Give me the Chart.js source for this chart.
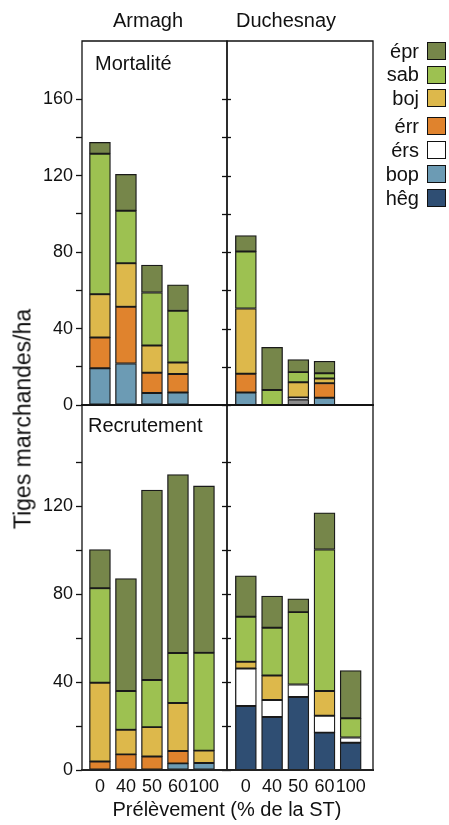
<!DOCTYPE html>
<html>
<head>
<meta charset="utf-8">
<script src="https://cdn.jsdelivr.net/npm/chart.js@4.4.1/dist/chart.umd.min.js"></script>
<style>
body{margin:0;width:449px;height:825px;position:relative;background:#fff;overflow:hidden;font-family:"Liberation Sans",Arial,sans-serif;color:#111}
canvas{position:absolute;left:0;top:0}
.t{position:absolute;white-space:nowrap;line-height:1;font-size:20px}
.leg{position:absolute;left:340px;width:106px;height:18px;display:flex;align-items:center;justify-content:flex-end;font-size:20px}
.leg span.b{display:inline-block;width:17px;height:16px;border:1.3px solid #111;margin-left:8px}
</style>
</head>
<body>
<canvas id="c1" width="449" height="825"></canvas>
<canvas id="c2" width="449" height="825"></canvas>
<canvas id="c3" width="449" height="825"></canvas>
<canvas id="c4" width="449" height="825"></canvas>

<div class="t" style="left:148px;top:10px;transform:translateX(-50%)">Armagh</div>
<div class="t" style="left:286px;top:10px;transform:translateX(-50%)">Duchesnay</div>
<div class="t" style="left:95px;top:53px">Mortalité</div>
<div class="t" style="left:88px;top:415px">Recrutement</div>
<div class="t" style="left:23px;top:419px;font-size:23px;transform:translate(-50%,-50%) rotate(-90deg)">Tiges marchandes/ha</div>
<div class="t" style="left:227px;top:799px;transform:translateX(-50%)">Prélèvement (% de la ST)</div>
<div id="legend"></div>

<script>
// catégories (prélèvement, % de la surface terrière)
const CATS = ['0', '40', '50', '60', '100'];

// espèces, du haut de la légende vers le bas
const SPECIES = ['épr', 'sab', 'boj', 'érr', 'érs', 'bop', 'hêg'];
const COLORS = ['#76864a', '#9dc151', '#ddb84b', '#e0832d', '#ffffff', '#6c9bb4', '#2f4e73'];
const OTHER_COLOR = '#8c8c8c';

// MORTALITÉ - Armagh
const armMortBop = [19.2, 21.7, 6.3, 6.5, 0];
const armMortErr = [16.1, 29.7, 10.6, 9.7, 0];
const armMortBoj = [22.7, 22.8, 14.2, 6.0, 0];
const armMortSab = [73.5, 27.5, 27.8, 27.1, 0];
const armMortEpr = [6.0, 19.0, 14.3, 13.6, 0];

// MORTALITÉ - Duchesnay
const duMortBop = [6.5, 0, 0, 3.8, 0];
const duMortAutre = [0, 0, 2.9, 0, 0];
const duMortErs = [0, 0, 1.0, 0, 0];
const duMortErr = [9.9, 0, 0, 7.6, 0];
const duMortBoj = [34.1, 0, 8.0, 2.5, 0];
const duMortSab = [29.8, 7.9, 5.3, 2.7, 0];
const duMortEpr = [8.4, 22.3, 6.6, 6.3, 0];

// RECRUTEMENT - Armagh
const armRecBop = [0, 0, 0, 3.0, 3.2];
const armRecErr = [3.9, 7.1, 6.1, 5.6, 0];
const armRecBoj = [35.8, 11.2, 13.4, 21.9, 5.6];
const armRecSab = [43.0, 17.6, 21.4, 22.7, 44.5];
const armRecEpr = [17.6, 51.2, 86.4, 81.2, 75.9];

// RECRUTEMENT - Duchesnay
const duRecHeg = [29.1, 24.1, 33.2, 17.0, 12.4];
const duRecErs = [17.1, 7.7, 5.7, 7.7, 2.4];
const duRecBoj = [3.0, 11.2, 0, 11.2, 0];
const duRecSab = [20.5, 21.7, 32.9, 64.4, 8.7];
const duRecEpr = [18.6, 14.4, 6.1, 16.7, 21.7];

// ticks de l'axe Y
const TOP_TICKS = [0, 20, 40, 60, 80, 100, 120, 140, 160];
const BOTTOM_TICKS = [0, 20, 40, 60, 80, 100, 120, 140];

const colorOf = sp => sp === 'autre' ? OTHER_COLOR : COLORS[SPECIES.indexOf(sp)];

// cadre du panneau + petits ticks intérieurs
const framePlugin = {
    id: 'frame',
    afterDatasetsDraw(chart, args, opts) {
        const {ctx, chartArea: a} = chart;
        const y = chart.scales.y;
        ctx.save();
        ctx.strokeStyle = '#111';
        ctx.lineWidth = 1.3;
        ctx.beginPath();
        ctx.moveTo(a.left, a.bottom); ctx.lineTo(a.left, a.top);
        ctx.lineTo(a.right, a.top); ctx.lineTo(a.right, a.bottom);
        ctx.stroke();
        opts.ticks.forEach(v => {
            const py = Math.round(y.getPixelForValue(v)) + 0.5;
            ctx.beginPath();
            if (opts.inRight) { ctx.moveTo(a.right - 5, py); ctx.lineTo(a.right, py); }
            if (opts.inLeft) { ctx.moveTo(a.left, py); ctx.lineTo(a.left + 4, py); }
            ctx.stroke();
        });
        ctx.strokeStyle = '#222';
        ctx.lineWidth = 2.2;
        ctx.beginPath();
        ctx.moveTo(a.left - 1, a.bottom); ctx.lineTo(a.right + 1, a.bottom);
        ctx.stroke();
        ctx.restore();
    }
};

function makePanel(id, stack, o) {
    const datasets = stack.map(([sp, arr]) => ({
        label: sp,
        data: arr.map((v, i) => ({x: i, y: v})).filter(d => d.y),
        backgroundColor: colorOf(sp),
        borderColor: '#1a1a1a',
        borderWidth: 1.3,
        borderSkipped: false,
        barThickness: 21
    }));
    const font = {family: '"Liberation Sans", Arial, sans-serif', size: 18};
    new Chart(document.getElementById(id), {
        type: 'bar',
        data: {datasets},
        plugins: [framePlugin],
        options: {
            responsive: false,
            animation: false,
            devicePixelRatio: 1,
            layout: {padding: {
                left: o.left - (o.yLabels ? 50 : 0),
                right: 449 - o.right,
                top: o.top,
                bottom: 825 - o.bottom - (o.xLabels ? 30 : 0)
            }},
            plugins: {
                legend: {display: false},
                tooltip: {enabled: false},
                frame: {ticks: o.ticks, inRight: o.inRight, inLeft: o.inLeft}
            },
            scales: {
                x: {
                    type: 'linear', stacked: true, min: o.xmin, max: o.xmax,
                    offset: false, bounds: 'data',
                    display: o.xLabels,
                    grid: {display: false, drawTicks: false, tickLength: 0, offset: false}, border: {display: false},
                    afterBuildTicks: s => { s.ticks = CATS.map((c, i) => ({value: i})); },
                    afterFit: s => { if (o.xLabels) s.height = 30; },
                    ticks: {callback: v => CATS[v], font, color: '#111', padding: 6, maxRotation: 0, autoSkip: false}
                },
                y: {
                    stacked: true, min: 0, max: o.ymax,
                    display: o.yLabels,
                    afterBuildTicks: s => { s.ticks = o.ticks.map(v => ({value: v})); },
                    afterFit: s => { if (o.yLabels) s.width = 50; },
                    border: {display: false},
                    grid: {drawOnChartArea: false, tickLength: 6, tickColor: '#111', tickWidth: 1.3},
                    ticks: {callback: v => (v % 40 === 0 ? v : ''), font, color: '#111', padding: 3, autoSkip: false}
                }
            }
        }
    });
}

makePanel('c1', [['bop', armMortBop], ['érr', armMortErr], ['boj', armMortBoj], ['sab', armMortSab], ['épr', armMortEpr]],
    {left: 82, right: 227, top: 41, bottom: 405, xmin: -0.69, xmax: 4.885, ymax: 190.5, ticks: TOP_TICKS, yLabels: true, xLabels: false, inRight: true});
makePanel('c2', [['bop', duMortBop], ['autre', duMortAutre], ['érs', duMortErs], ['érr', duMortErr], ['boj', duMortBoj], ['sab', duMortSab], ['épr', duMortEpr]],
    {left: 227, right: 373, top: 41, bottom: 405, xmin: -0.72, xmax: 4.85, ymax: 190.5, ticks: TOP_TICKS, yLabels: false, xLabels: false, inLeft: true});
makePanel('c3', [['bop', armRecBop], ['érr', armRecErr], ['boj', armRecBoj], ['sab', armRecSab], ['épr', armRecEpr]],
    {left: 82, right: 227, top: 405, bottom: 770, xmin: -0.69, xmax: 4.885, ymax: 166, ticks: BOTTOM_TICKS, yLabels: true, xLabels: true, inRight: true});
makePanel('c4', [['hêg', duRecHeg], ['érs', duRecErs], ['boj', duRecBoj], ['sab', duRecSab], ['épr', duRecEpr]],
    {left: 227, right: 373, top: 405, bottom: 770, xmin: -0.72, xmax: 4.85, ymax: 166, ticks: BOTTOM_TICKS, yLabels: false, xLabels: true, inLeft: true});

// légende
const legTops = [42, 65.5, 89, 117, 141, 165, 189];
document.getElementById('legend').innerHTML = SPECIES.map((sp, i) =>
    `<div class="leg" style="top:${legTops[i]}px">${sp}<span class="b" style="background:${COLORS[i]}"></span></div>`).join('');
</script>
</body>
</html>
